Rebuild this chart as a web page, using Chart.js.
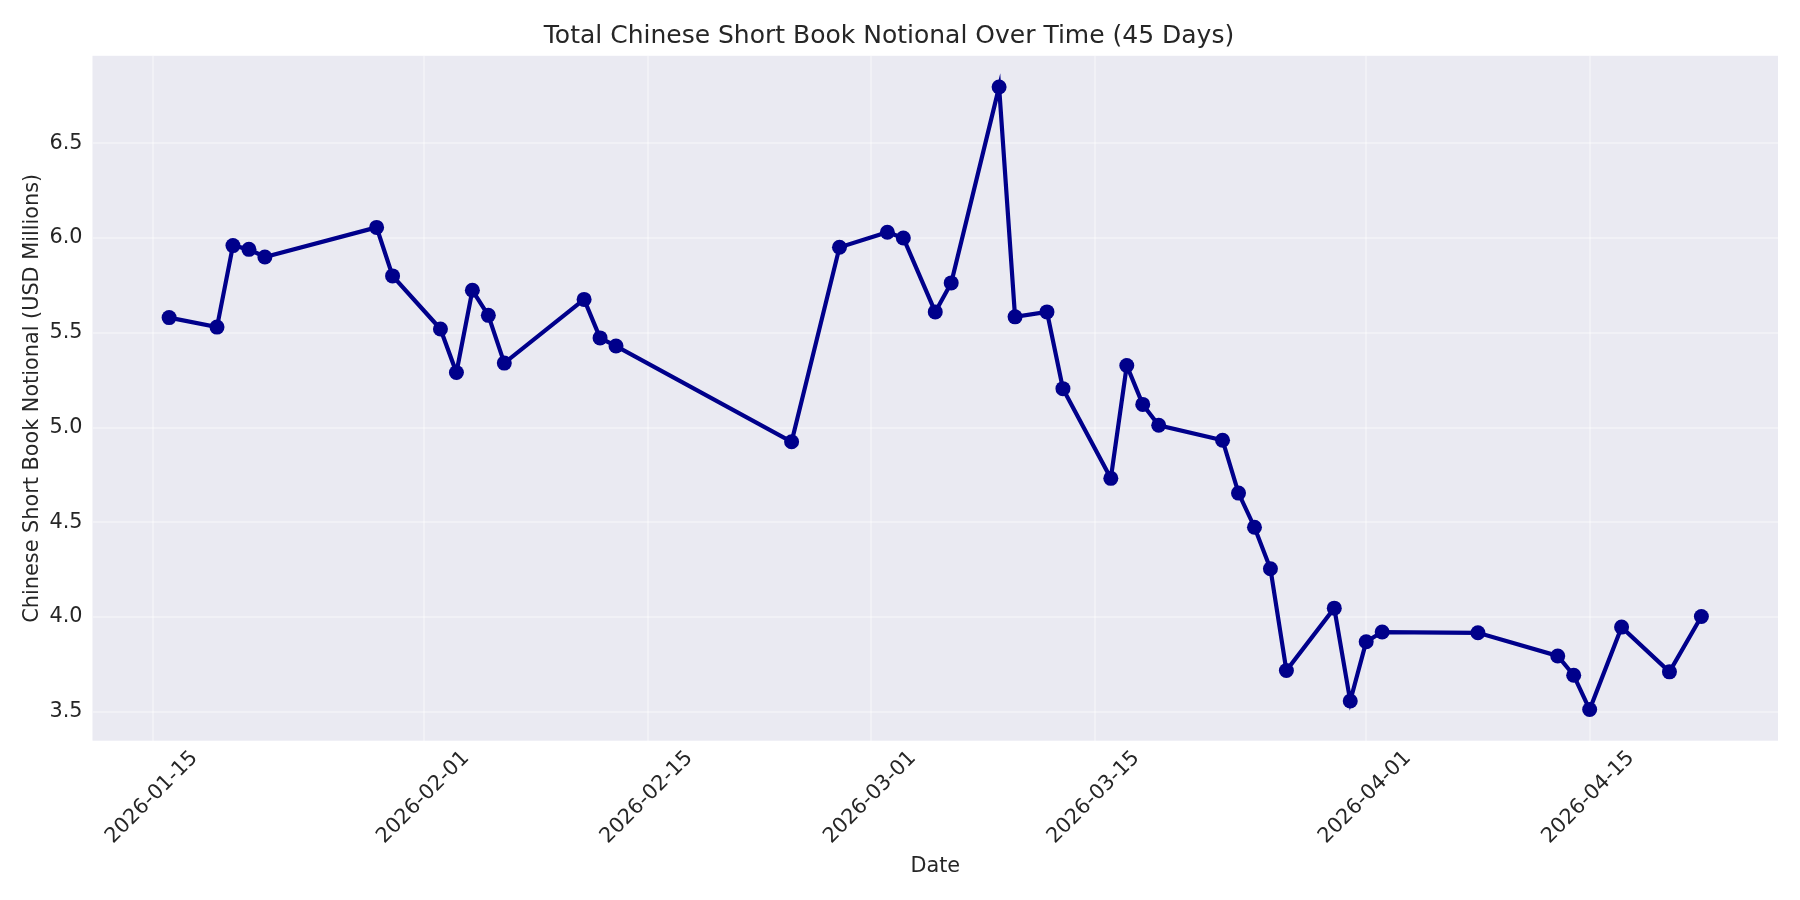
<!DOCTYPE html>
<html>
<head>
<meta charset="utf-8">
<title>Total Chinese Short Book Notional Over Time</title>
<script src="https://cdn.jsdelivr.net/npm/chart.js@4.4.1/dist/chart.umd.min.js"></script>
<style>
    html, body { margin: 0; padding: 0; background: #FFFFFF; }
    #wrap { width: 1800px; height: 900px; }
</style>
</head>
<body>
<div id="wrap"><canvas id="shortBookChart"></canvas></div>
<script>
// ====== DADOS ======
const dates = [
    '2026-01-16', '2026-01-19', '2026-01-20', '2026-01-21', '2026-01-22',
    '2026-01-29', '2026-01-30', '2026-02-02', '2026-02-03', '2026-02-04',
    '2026-02-05', '2026-02-06', '2026-02-11', '2026-02-12', '2026-02-13',
    '2026-02-24', '2026-02-27', '2026-03-02', '2026-03-03', '2026-03-05',
    '2026-03-06', '2026-03-09', '2026-03-10', '2026-03-12', '2026-03-13',
    '2026-03-16', '2026-03-17', '2026-03-18', '2026-03-19', '2026-03-23',
    '2026-03-24', '2026-03-25', '2026-03-26', '2026-03-27', '2026-03-30',
    '2026-03-31', '2026-04-01', '2026-04-02', '2026-04-08', '2026-04-13',
    '2026-04-14', '2026-04-15', '2026-04-17', '2026-04-20', '2026-04-22'
];

const notional = [
    5.58, 5.53, 5.96, 5.94, 5.90,
    6.056, 5.80, 5.52, 5.29, 5.724,
    5.592, 5.34, 5.676, 5.473, 5.43,
    4.925, 5.951, 6.03, 6.0, 5.61,
    5.763, 6.797, 5.584, 5.61, 5.205,
    4.732, 5.327, 5.122, 5.012, 4.933,
    4.654, 4.474, 4.255, 3.718, 4.047,
    3.557, 3.870, 3.921, 3.917, 3.795,
    3.693, 3.512, 3.947, 3.711, 4.003
];

const xTickLabels = ['2026-01-15', '2026-02-01', '2026-02-15', '2026-03-01', '2026-03-15', '2026-04-01', '2026-04-15'];
const yTickValues = [3.5, 4.0, 4.5, 5.0, 5.5, 6.0, 6.5];

// dias desde 2026-01-15
const DAY_MS = 86400000;
const ORIGIN = Date.parse('2026-01-15T00:00:00Z');
function dayOf(s) {
    return (Date.parse(s + 'T00:00:00Z') - ORIGIN) / DAY_MS;
}

const points = dates.map((d, i) => ({ x: dayOf(d), y: notional[i] }));

// margens de 5% como no matplotlib
function padded(arr) {
    const lo = Math.min(...arr), hi = Math.max(...arr);
    const m = (hi - lo) * 0.05;
    return [lo - m, hi + m];
}
const [xMin, xMax] = padded(points.map(p => p.x));
const [yMin, yMax] = padded(notional);

const TEXT = '#262626';
const GRID = 'rgba(255,255,255,0.35)';
const FONT = 'DejaVu Sans';

// fundo da área do gráfico
const plotBackground = {
    id: 'plotBackground',
    beforeDraw(chart) {
        const { ctx, chartArea: a } = chart;
        ctx.save();
        ctx.fillStyle = '#EAEAF2';
        ctx.fillRect(a.left, a.top, a.right - a.left, a.bottom - a.top);
        ctx.restore();
    }
};

new Chart(document.getElementById('shortBookChart'), {
    type: 'line',
    data: {
        datasets: [{
            label: 'Notional',
            data: points,
            borderColor: '#00008B',
            backgroundColor: '#00008B',
            borderWidth: 4.2,
            fill: false,
            tension: 0,
            pointRadius: 7.5,
            pointBorderWidth: 0,
            pointBackgroundColor: '#00008B',
            pointHoverRadius: 7.5
        }]
    },
    options: {
        responsive: true,
        maintainAspectRatio: false,
        animation: false,
        layout: {
            padding: { left: 0, right: 22, top: 0, bottom: 0 }
        },
        plugins: {
            legend: { display: false },
            tooltip: { enabled: false },
            title: {
                display: true,
                text: 'Total Chinese Short Book Notional Over Time (45 Days)',
                color: TEXT,
                font: { family: FONT, size: 25, weight: 'normal' },
                padding: { top: 21.5, bottom: 4.3 }
            }
        },
        scales: {
            x: {
                type: 'linear',
                min: xMin,
                max: xMax,
                afterBuildTicks: (scale) => {
                    scale.ticks = xTickLabels.map(d => ({ value: dayOf(d) }));
                },
                afterFit: (scale) => { scale.height = 159.3; },
                border: { display: false },
                grid: { color: GRID, lineWidth: 2, drawTicks: false },
                ticks: {
                    autoSkip: false,
                    minRotation: 45,
                    maxRotation: 45,
                    labelOffset: 41.5,
                    padding: 5.3,
                    color: TEXT,
                    font: { family: FONT, size: 20.8 },
                    callback: (value, index) => xTickLabels[index]
                },
                title: {
                    display: true,
                    text: 'Date',
                    color: TEXT,
                    font: { family: FONT, size: 20.8 },
                    padding: { top: 0, bottom: 20.5 }
                }
            },
            y: {
                min: yMin,
                max: yMax,
                afterBuildTicks: (scale) => {
                    scale.ticks = yTickValues.map(v => ({ value: v }));
                },
                afterFit: (scale) => { scale.width = 92.5; },
                border: { display: false },
                grid: { color: GRID, lineWidth: 2, drawTicks: false },
                ticks: {
                    padding: 10,
                    color: TEXT,
                    font: { family: FONT, size: 20.8 },
                    callback: (value) => Number(value).toFixed(1)
                },
                title: {
                    display: true,
                    text: 'Chinese Short Book Notional (USD Millions)',
                    color: TEXT,
                    font: { family: FONT, size: 20.8 },
                    padding: { top: 20, bottom: 0 }
                }
            }
        }
    },
    plugins: [plotBackground]
});
</script>
</body>
</html>
